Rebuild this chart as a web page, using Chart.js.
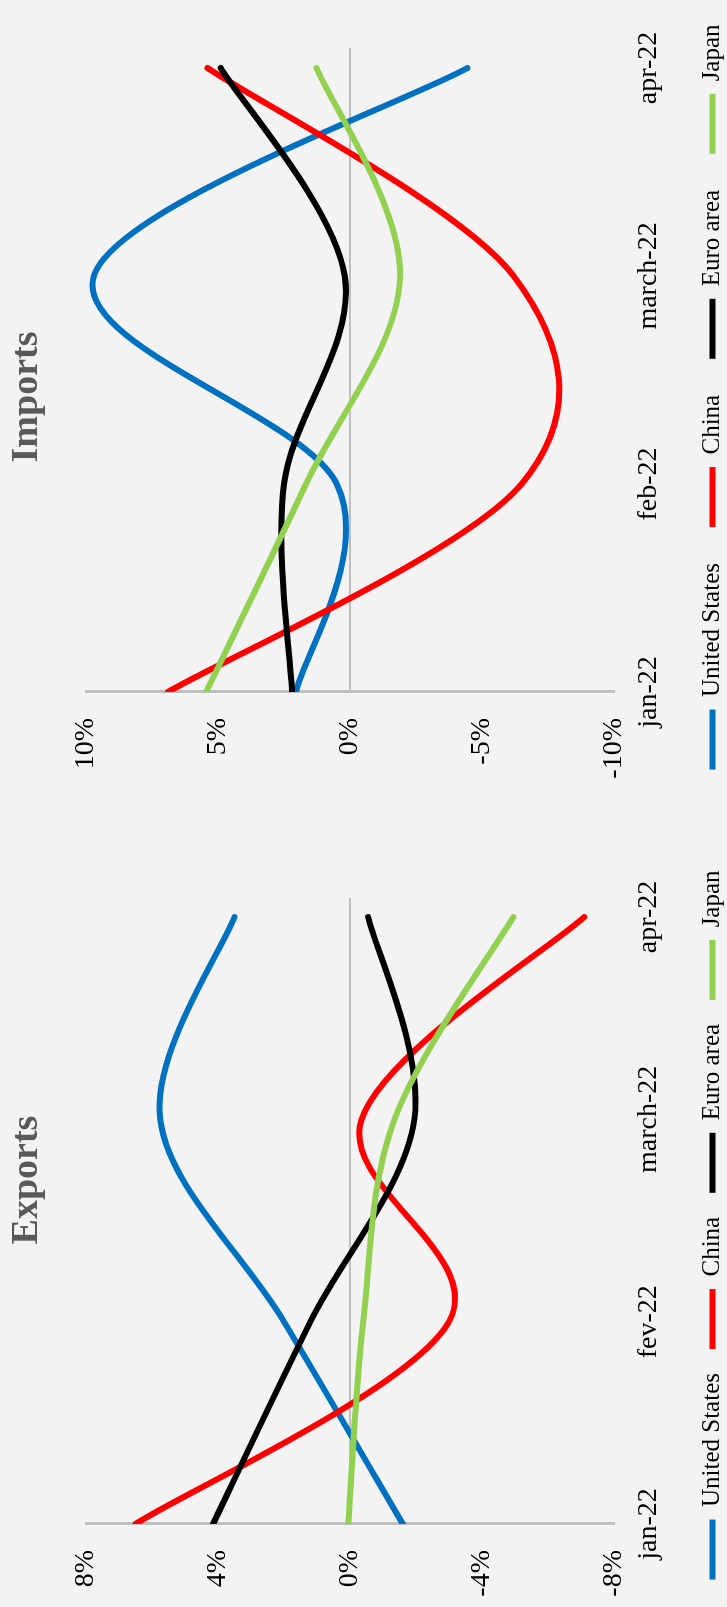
<!DOCTYPE html>
<html lang="en">
<head>
<meta charset="utf-8">
<title>Exports / Imports</title>
<script src="https://cdn.jsdelivr.net/npm/chart.js@4.4.1/dist/chart.umd.min.js"></script>
<style>
    html, body {
        margin: 0;
        padding: 0;
        width: 727px;
        height: 1607px;
        overflow: hidden;
        background: #f3f3f3;
    }
    /* The whole slide is drawn lying on its side, then turned a quarter left */
    #stage {
        position: absolute;
        left: 0;
        top: 0;
        width: 1607px;
        height: 727px;
        transform-origin: 0 0;
        transform: translateY(1607px) rotate(-90deg);
    }
    #stage canvas {
        position: absolute;
        top: 0;
    }
    .chart-title {
        position: absolute;
        top: 5px;
        transform: translateX(-50%);
        font: bold 38px 'Liberation Serif', 'Times New Roman', serif;
        line-height: 38px;
        color: #595959;
        white-space: nowrap;
    }
</style>
</head>
<body>
<div id="stage">
    <canvas id="exports-chart" width="764" height="735" style="left:0"></canvas>
    <canvas id="imports-chart" width="860" height="735" style="left:780px"></canvas>
    <div class="chart-title" style="left:427px">Exports</div>
    <div class="chart-title" style="left:1210px">Imports</div>
</div>
<script>
// Series shared by both charts
const seriesNames = ['United States', 'China', 'Euro area', 'Japan'];
const seriesColors = ['#0070C0', '#FF0000', '#000000', '#92D050'];

// Exports (% change)
const exportMonths = ['jan-22', 'fev-22', 'march-22', 'apr-22'];
const exportsUS = [-1.6, 2.0, 5.75, 3.5];
const exportsChina = [6.5, -3.0, -0.35, -7.1];
const exportsEuro = [4.15, 1.2, -1.95, -0.55];
const exportsJapan = [0.05, -0.4, -1.35, -4.95];
const exportTicks = [-8, -4, 0, 4, 8];

// Imports (% change)
const importMonths = ['jan-22', 'feb-22', 'march-22', 'apr-22'];
const importsUS = [2.05, 0.5, 9.7, -4.45];
const importsChina = [6.9, -6.5, -6.2, 5.4];
const importsEuro = [2.2, 2.5, 0.2, 4.9];
const importsJapan = [5.45, 1.67, -1.9, 1.27];
const importTicks = [-10, -5, 0, 5, 10];

const FONT = "'Liberation Serif', 'Times New Roman', serif";
Chart.defaults.font.family = FONT;

// Office-like smoothing: control points at 1/6 of the neighbour span
// (the default spline weights by pixel distance and bends differently)
const officeSmooth = {
    id: 'officeSmooth',
    beforeDatasetDraw(chart, args) {
        const line = args.meta.dataset;
        const pts = args.meta.data;
        const n = pts.length;
        line.updateControlPoints(chart.chartArea, args.meta.indexAxis);
        for (let i = 0; i < n; i++) {
            const prev = pts[Math.max(i - 1, 0)];
            const next = pts[Math.min(i + 1, n - 1)];
            const p = pts[i];
            const dx = (next.x - prev.x) / 6;
            const dy = (next.y - prev.y) / 6;
            p.cp1x = p.x - dx;
            p.cp1y = p.y - dy;
            p.cp2x = p.x + dx;
            p.cp2y = p.y + dy;
        }
    }
};

/**
 * Builds one smoothed line chart
 * @param {string} id canvas id
 * @param {Array} months category labels
 * @param {Array} values one array per series
 * @param {Array} ticks value axis ticks
 * @param {Object} box sizes of the boxes around the plot
 */
function makeChart(id, months, values, ticks, box) {
    const ctx = document.getElementById(id);
    const legendSize = 25;

    const datasets = values.map((vals, i) => ({
        label: seriesNames[i],
        data: vals.map((v, j) => ({ x: j, y: v })),
        borderColor: seriesColors[i],
        backgroundColor: seriesColors[i],
        borderWidth: 6,
        borderCapStyle: 'round',
        pointRadius: 0,
        tension: 0.4,
        // later series are painted on top
        order: values.length - i
    }));

    return new Chart(ctx, {
        type: 'line',
        data: { datasets: datasets },
        plugins: [officeSmooth],
        options: {
            responsive: false,
            animation: false,
            layout: { padding: { top: 86, left: 0, right: 0, bottom: 0 } },
            plugins: {
                tooltip: { enabled: false },
                legend: {
                    position: 'bottom',
                    labels: {
                        usePointStyle: true,
                        pointStyle: 'line',
                        pointStyleWidth: 60,
                        color: '#000',
                        font: { size: legendSize },
                        padding: box.legendPad,
                        sort: (a, b) => a.datasetIndex - b.datasetIndex
                    }
                }
            },
            scales: {
                x: {
                    type: 'linear',
                    min: 0,
                    max: box.xMax,
                    grid: { display: false, drawTicks: false },
                    border: { display: false },
                    afterBuildTicks: s => { s.ticks = months.map((m, i) => ({ value: i })); },
                    afterFit: s => { s.height = ctx.height - 614 - (legendSize + box.legendPad + 10); },
                    ticks: {
                        callback: v => months[v],
                        autoSkip: false,
                        maxRotation: 0,
                        padding: 18,
                        color: '#000',
                        font: { size: 28 }
                    }
                },
                y: {
                    min: ticks[0],
                    max: ticks[ticks.length - 1],
                    afterBuildTicks: s => { s.ticks = ticks.map(v => ({ value: v })); },
                    afterFit: s => { s.width = box.yWidth; },
                    grid: {
                        color: c => (c.tick && c.tick.value === 0) ? '#BFBFBF' : 'rgba(0,0,0,0)',
                        lineWidth: 2,
                        drawTicks: false
                    },
                    border: { display: true, color: '#BFBFBF', width: 3 },
                    ticks: {
                        callback: v => v + '%',
                        padding: 26,
                        color: '#000',
                        font: { size: 28 }
                    }
                },
                // empty axis that only reserves room on the right
                y2: {
                    position: 'right',
                    grid: { display: false, drawTicks: false },
                    border: { display: false },
                    ticks: { display: false },
                    afterFit: s => { s.width = box.rightWidth; }
                }
            }
        }
    });
}

makeChart('exports-chart', exportMonths,
    [exportsUS, exportsChina, exportsEuro, exportsJapan], exportTicks,
    { xMax: 3.094, yWidth: 83, rightWidth: 55, legendPad: 24 });

makeChart('imports-chart', importMonths,
    [importsUS, importsChina, importsEuro, importsJapan], importTicks,
    { xMax: 3.096, yWidth: 135, rightWidth: 81, legendPad: 36 });
</script>
</body>
</html>
